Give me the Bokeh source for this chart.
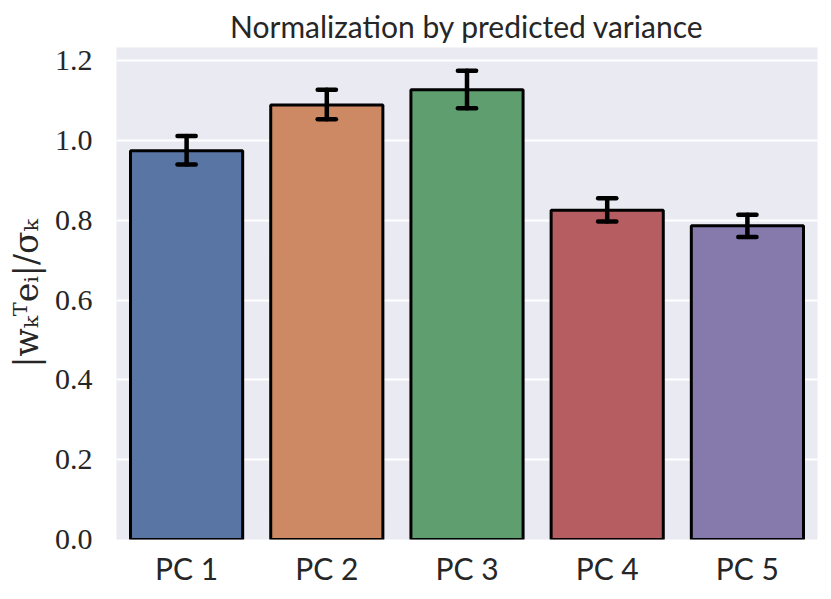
from bokeh.plotting import figure
from bokeh.models import ColumnDataSource, FixedTicker, PrintfTickFormatter, Range1d, FactorRange
from bokeh.transform import dodge
from bokeh.embed import file_html
from bokeh.resources import INLINE

categories = ["PC 1", "PC 2", "PC 3", "PC 4", "PC 5"]
values = [0.974, 1.089, 1.127, 0.825, 0.786]
err_low = [0.940, 1.053, 1.081, 0.797, 0.758]
err_high = [1.011, 1.127, 1.175, 0.855, 0.814]
colors = ["#5975A4", "#CC8963", "#5F9E6E", "#B55D60", "#857AAB"]
yticks = [0.0, 0.2, 0.4, 0.6, 0.8, 1.0, 1.2]

src = ColumnDataSource(dict(x=categories, top=values, lo=err_low, hi=err_high, color=colors))

p = figure(x_range=FactorRange(*categories), y_range=Range1d(0, 1.233),
           width=825, height=595, output_backend="svg", toolbar_location=None,
           min_border_left=116, min_border_right=8, min_border_top=47, min_border_bottom=56,
           title="Normalization by predicted variance")

p.background_fill_color = "#EAEAF2"
p.border_fill_color = "white"
p.outline_line_color = None

p.title.text_font = "Lato"
p.title.text_font_size = "30px"
p.title.text_font_style = "normal"
p.title.text_color = "#262626"
p.title.align = "center"
p.title.offset = 0
p.title.standoff = 8

p.vbar(x="x", top="top", width=0.8, bottom=0, source=src, fill_color="color",
       line_color="black", line_width=3)

p.segment(x0="x", x1="x", y0="lo", y1="hi", source=src, line_color="black",
          line_width=4.5, line_cap="round")
p.segment(x0=dodge("x", -0.065, range=p.x_range), x1=dodge("x", 0.065, range=p.x_range),
          y0="lo", y1="lo", source=src, line_color="black", line_width=4.5, line_cap="round")
p.segment(x0=dodge("x", -0.065, range=p.x_range), x1=dodge("x", 0.065, range=p.x_range),
          y0="hi", y1="hi", source=src, line_color="black", line_width=4.5, line_cap="round")

p.xgrid.grid_line_color = None
p.ygrid.grid_line_color = "white"
p.ygrid.grid_line_width = 2
p.ygrid.level = "underlay"

p.yaxis.ticker = FixedTicker(ticks=yticks)
p.yaxis.formatter = PrintfTickFormatter(format="%.1f")
for ax in (p.xaxis, p.yaxis):
    ax.axis_line_color = None
    ax.major_tick_line_color = None
    ax.minor_tick_line_color = None
    ax.major_label_text_color = "#262626"

p.yaxis.major_label_text_font = "Liberation Serif"
p.yaxis.major_label_text_font_size = "30px"
p.yaxis.major_label_standoff = 18
p.xaxis.major_label_text_font = "Lato"
p.xaxis.major_label_text_font_size = "30px"
p.xaxis.major_label_standoff = 4

p.yaxis.axis_label = "|wₖᵀeᵢ|/σₖ"
p.yaxis.axis_label_text_font = "DejaVu Serif"
p.yaxis.axis_label_text_font_size = "33px"
p.yaxis.axis_label_text_font_style = "normal"
p.yaxis.axis_label_text_color = "#262626"
p.yaxis.axis_label_standoff = 6

open("out.html", "w").write(file_html(p, INLINE))
